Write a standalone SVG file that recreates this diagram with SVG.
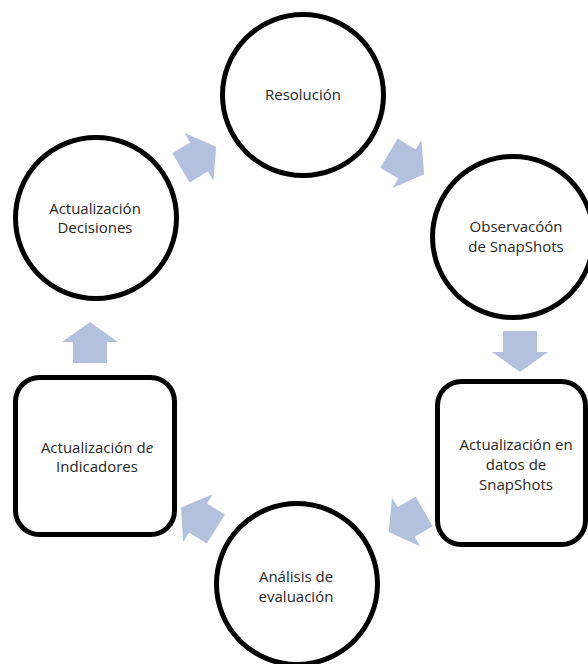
<svg xmlns="http://www.w3.org/2000/svg" width="588" height="664" viewBox="0 0 588 664">
<defs>
<style>
.node{fill:#ffffff;stroke:#000000;stroke-width:5}
.lbl{font-family:"Open Sans","Noto Sans",sans-serif;font-size:15px;fill:#262626;text-anchor:middle}
.arr{fill:#b3c0de}
</style>
<polygon id="ba" points="-21,-17 0,-17 0,-28 20,0 0,28 0,17 -21,17"/>
</defs>
<rect width="588" height="664" fill="#ffffff"/>
<g id="connectors">
<use href="#ba" class="arr" transform="translate(199,157) rotate(-31)"/>
<use href="#ba" class="arr" transform="translate(407,164) rotate(31)"/>
<use href="#ba" class="arr" transform="translate(520,352) rotate(90)"/>
<use href="#ba" class="arr" transform="translate(406,522) rotate(150)"/>
<use href="#ba" class="arr" transform="translate(198,518) rotate(212)"/>
<use href="#ba" class="arr" transform="translate(90,342) rotate(-90)"/>
</g>
<g id="n-resolucion">
<circle class="node" cx="303" cy="95" r="80.5"/>
<text class="lbl" x="303" y="100">Resolución</text>
</g>
<g id="n-observacion">
<circle class="node" cx="513" cy="237" r="80.5"/>
<text class="lbl" x="516" y="232">Observacóón</text>
<text class="lbl" x="516" y="252">de SnapShots</text>
</g>
<g id="n-datos">
<rect class="node" x="437.5" y="381.5" width="148" height="163" rx="24"/>
<text class="lbl" x="516" y="450">Actualización en</text>
<text class="lbl" x="516" y="470">datos de</text>
<text class="lbl" x="516" y="490">SnapShots</text>
</g>
<g id="n-analisis">
<circle class="node" cx="297" cy="584" r="80.5"/>
<text class="lbl" x="296" y="582">Análisis de</text>
<text class="lbl" x="296" y="602">evaluación</text>
</g>
<g id="n-indicadores">
<rect class="node" x="15.5" y="377.5" width="159" height="157" rx="24"/>
<text class="lbl" x="97" y="453">Actualización d<tspan font-style="italic">e</tspan></text>
<text class="lbl" x="97" y="472">Indicadores</text>
</g>
<g id="n-decisiones">
<circle class="node" cx="96" cy="218" r="80.5"/>
<text class="lbl" x="95" y="214">Actualización</text>
<text class="lbl" x="95" y="233">Decisiones</text>
</g>
</svg>
